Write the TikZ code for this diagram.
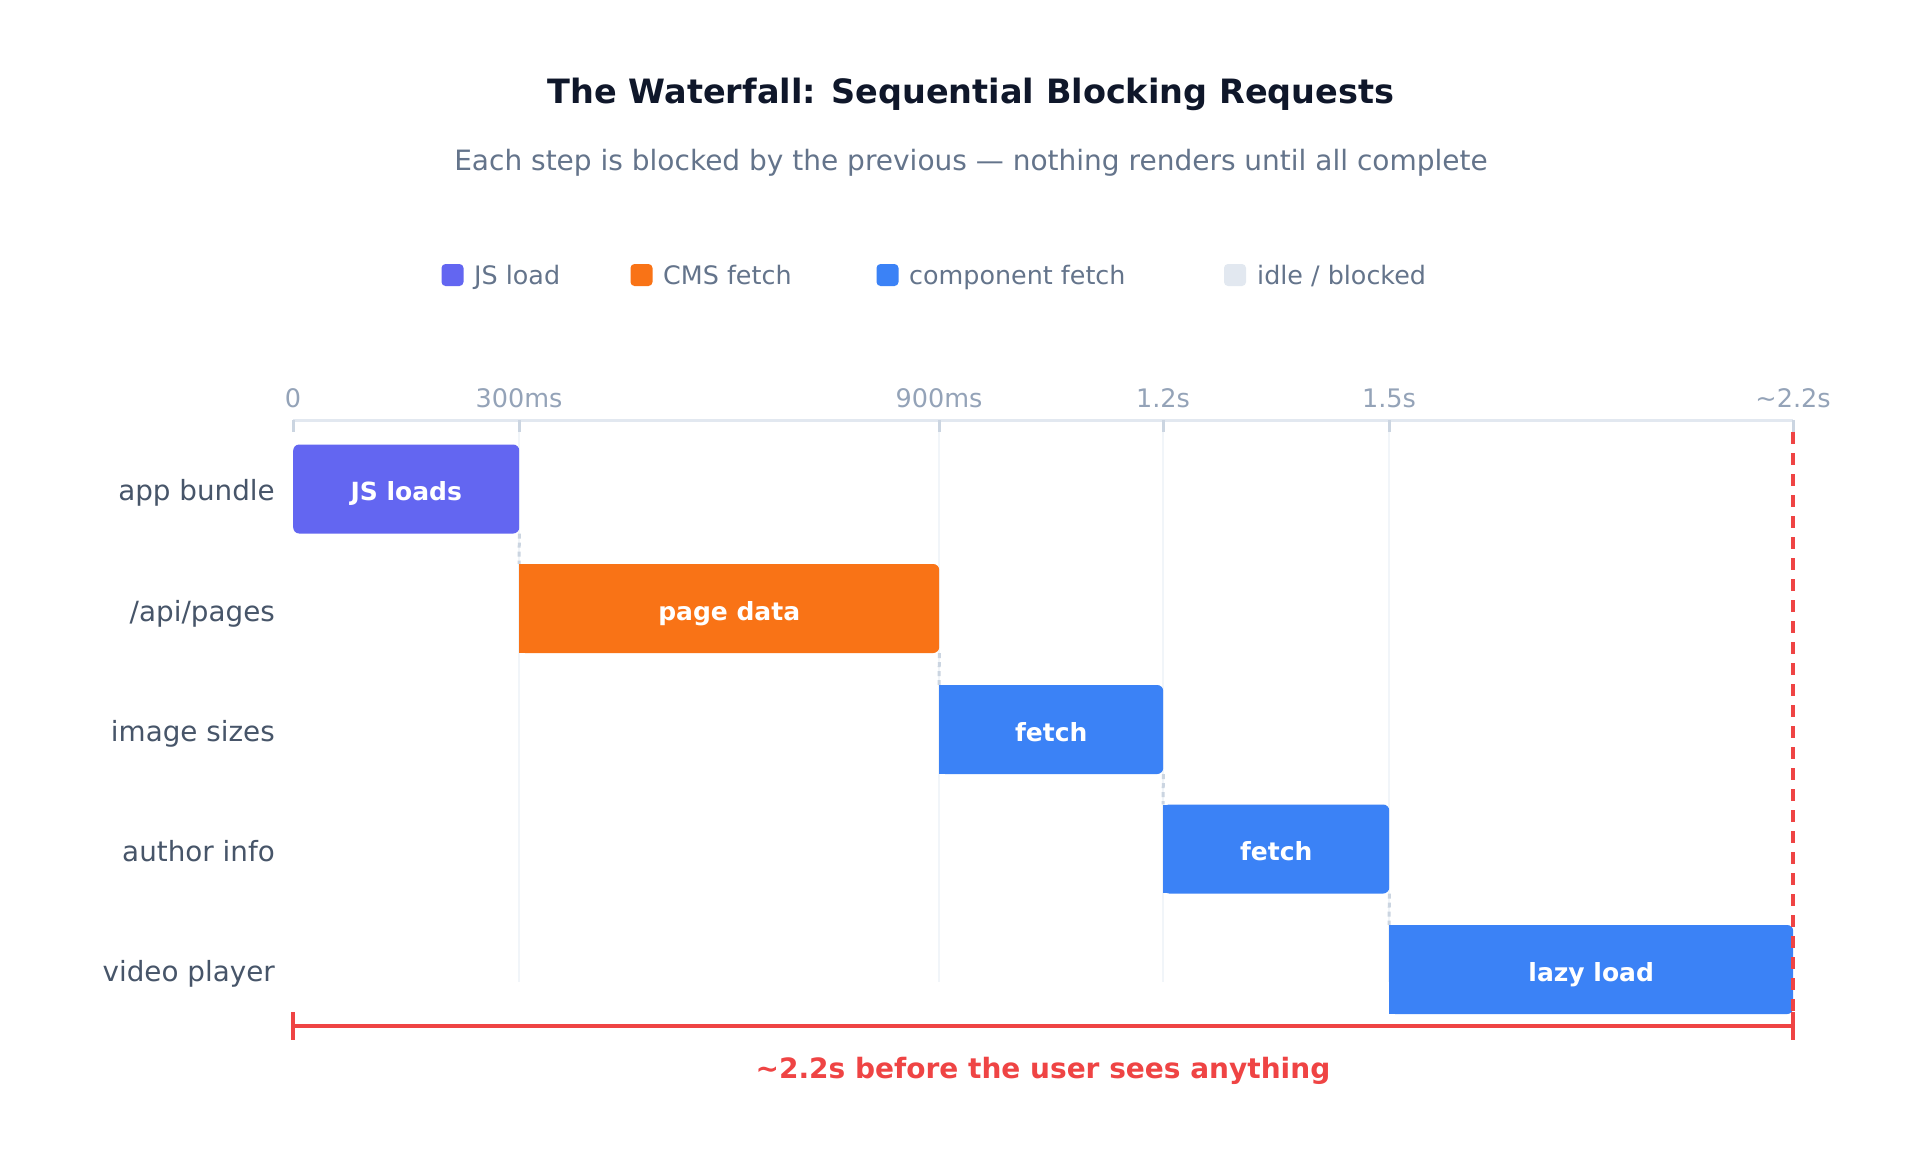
\documentclass[tikz,border=0pt]{standalone}
\usepackage{fontspec}
\setmainfont{DejaVu Sans}
\definecolor{jsc}{HTML}{6366F1}
\definecolor{cmsc}{HTML}{F97316}
\definecolor{compc}{HTML}{3B82F6}
\definecolor{idlec}{HTML}{E2E8F0}
\definecolor{redc}{HTML}{EF4444}
\definecolor{titlec}{HTML}{0F172A}
\definecolor{subc}{HTML}{64748B}
\definecolor{tickc}{HTML}{94A3B8}
\definecolor{rowc}{HTML}{475569}
\definecolor{axisc}{HTML}{E2E8F0}
\definecolor{tickmc}{HTML}{CBD5E1}
\definecolor{gridc}{HTML}{F1F5F9}
\begin{document}
\begin{tikzpicture}[x=1pt,y=-1pt,
  bar/.style={rounded corners=6pt, minimum height=89pt, inner sep=0pt, anchor=west,
    text=white, font=\fontsize{25}{30}\selectfont\bfseries, text height=23pt, text depth=0pt},
  rowlab/.style={anchor=base east, inner sep=0pt, text=rowc, font=\fontsize{27.8}{33}\selectfont},
  ticklab/.style={anchor=base, inner sep=0pt, text=tickc, font=\fontsize{25.5}{30}\selectfont},
  legsq/.style={rounded corners=4pt, minimum size=22pt, inner sep=0pt},
  legtxt/.style={anchor=base west, inner sep=0pt, text=subc, font=\fontsize{25.4}{30}\selectfont},
  dep/.style={tickmc, line width=3pt, dash pattern=on 5pt off 4pt},
  gridline/.style={gridc, line width=2.5pt},
  tickmark/.style={tickmc, line width=3pt},
  redline/.style={redc, line width=4pt}
]
\useasboundingbox (0,0) rectangle (1932,1149);
\fill[white] (0,0) rectangle (1932,1149);

% title and subtitle
\node[anchor=base, inner sep=0pt, text=titlec, font=\fontsize{33.5}{40}\selectfont\bfseries] (title) at (971,103) {The Waterfall: Sequential Blocking Requests};
\node[anchor=base, inner sep=0pt, text=subc, font=\fontsize{28}{33}\selectfont] (subtitle) at (971,170) {Each step is blocked by the previous — nothing renders until all complete};

% legend
\node[legsq, fill=jsc] (lg1) at (452.5,275) {};
\node[legtxt] (lt1) at (474,284) {JS load};
\node[legsq, fill=cmsc] (lg2) at (641.5,275) {};
\node[legtxt] (lt2) at (663,284) {CMS fetch};
\node[legsq, fill=compc] (lg3) at (887.5,275) {};
\node[legtxt] (lt3) at (909,284) {component fetch};
\node[legsq, fill=idlec] (lg4) at (1235,275) {};
\node[legtxt] (lt4) at (1257,284) {idle / blocked};

% axis
\coordinate (t0) at (293,420);
\coordinate (t1) at (519,420);
\coordinate (t2) at (939,420);
\coordinate (t3) at (1163,420);
\coordinate (t4) at (1389,420);
\coordinate (t5) at (1793,420);

% grid lines
\foreach \t in {t1,t2,t3,t4} {
  \draw[gridline] (\t) -- ([yshift=-562pt]\t);
}
\draw[axisc, line width=3pt] (t0) -- (t5);
\foreach \t in {t0,t1,t2,t3,t4,t5} {
  \draw[tickmark] (\t) -- ([yshift=-12pt]\t);
}

\node[ticklab] (l0) at (293,407) {0};
\node[ticklab] (l1) at (519,407) {300ms};
\node[ticklab] (l2) at (939,407) {900ms};
\node[ticklab] (l3) at (1163,407) {1.2s};
\node[ticklab] (l4) at (1389,407) {1.5s};
\node[ticklab] (l5) at (1793,407) {\textasciitilde 2.2s};

% row labels
\node[rowlab] (r1) at (275,500.5) {app bundle};
\node[rowlab] (r2) at (275,621) {/api/pages};
\node[rowlab] (r3) at (275,741.5) {image sizes};
\node[rowlab] (r4) at (275,861) {author info};
\node[rowlab] (r5) at (275,981.5) {video player};

% bars
\node[bar, fill=jsc, minimum width=226pt] (b1) at (293,489) {JS loads};
\fill[cmsc] (519,564) rectangle (530,653);
\node[bar, fill=cmsc, minimum width=420pt] (b2) at (519,608.5) {page data};
\fill[compc] (939,685) rectangle (950,774);
\node[bar, fill=compc, minimum width=224pt] (b3) at (939,729.5) {fetch};
\fill[compc] (1163,805) rectangle (1174,893);
\node[bar, fill=compc, minimum width=226pt] (b4) at (1163,849) {fetch};
\fill[compc] (1389,925) rectangle (1400,1014);
\node[bar, fill=compc, minimum width=404pt] (b5) at (1389,969.5) {lazy load};

% dependencies
\draw[dep] (b1.south east) -- (b2.north west);
\draw[dep] (b2.south east) -- (b3.north west);
\draw[dep] (b3.south east) -- (b4.north west);
\draw[dep] (b4.south east) -- (b5.north west);

% end marker and bracket
\coordinate (endtop) at (1793,432);
\coordinate (endbot) at (1793,1040);
\draw[redline, dash pattern=on 12pt off 9pt] (endtop) -- (endbot);
\coordinate (brL) at (293,1026);
\coordinate (brR) at (1793,1026);
\draw[redline] (brL) -- (brR);
\draw[redline] (293,1012) -- (293,1040);
\draw[redline] (1793,1012) -- (1793,1040);
\node[anchor=base, inner sep=0pt, text=redc, font=\fontsize{28}{34}\selectfont\bfseries] (cap) at (1043,1078) {\textasciitilde 2.2s before the user sees anything};
\end{tikzpicture}
\end{document}
